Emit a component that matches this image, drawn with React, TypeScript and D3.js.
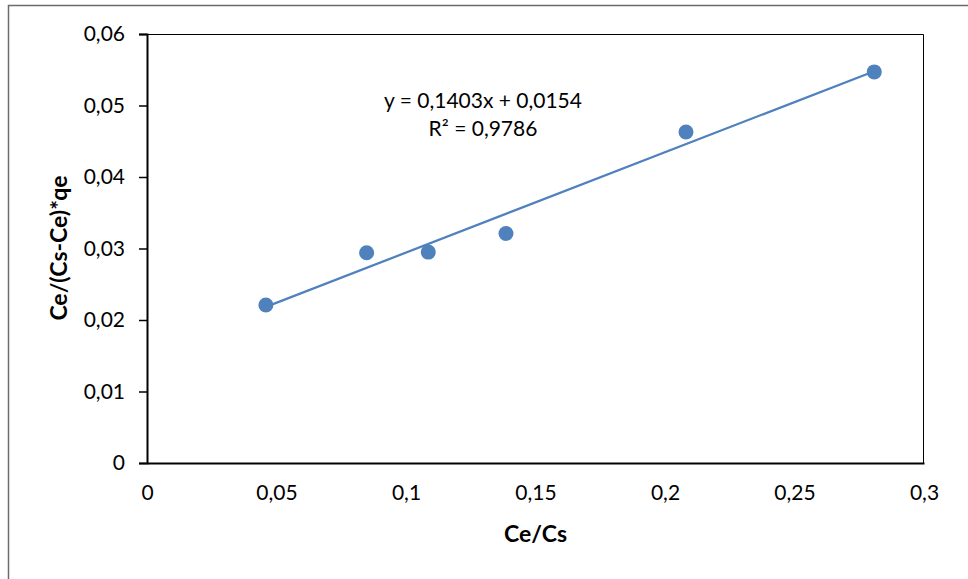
import { useRef, useEffect } from "react";
import * as d3 from "d3";

// values
const ceCs = [0.0459, 0.0848, 0.1086, 0.1386, 0.2081, 0.2808];
const ceRatio = [0.0221, 0.0294, 0.0295, 0.0321, 0.0463, 0.0547];
const xTicks = [0, 0.05, 0.1, 0.15, 0.2, 0.25, 0.3];
const yTicks = [0, 0.01, 0.02, 0.03, 0.04, 0.05, 0.06];
const trendSlope = 0.1403;
const trendIntercept = 0.0154;
const trendR2 = 0.9786;

const WIDTH = 968;
const HEIGHT = 579;
const margin = { top: 34, right: 44, bottom: 116, left: 147 };
const FONT = "Lato, 'Open Sans', sans-serif";
const BLUE = "#4F81BD";

// 0,05 style labels
const comma = (v: number) => String(+v.toFixed(4)).replace(".", ",");

const App = () => {
  const svgRef = useRef<SVGSVGElement>(null);

  useEffect(() => {
    const svg = d3.select(svgRef.current);
    svg.selectAll("*").remove();

    const chartWidth = WIDTH - margin.left - margin.right;
    const chartHeight = HEIGHT - margin.top - margin.bottom;

    svg.append("rect").attr("width", WIDTH).attr("height", HEIGHT).attr("fill", "#fff");

    // outer chart frame (only top and left edges are in view)
    svg
      .append("path")
      .attr("d", `M8.5,${HEIGHT} V5.5 H${WIDTH}`)
      .attr("fill", "none")
      .attr("stroke", "#6b6b6b")
      .attr("stroke-width", 1.5);

    const g = svg.append("g").attr("transform", `translate(${margin.left},${margin.top})`);

    const xScale = d3.scaleLinear().domain([0, 0.3]).range([0, chartWidth]);
    const yScale = d3.scaleLinear().domain([0, 0.06]).range([chartHeight, 0]);

    // plot area border, top and right thin
    g.append("path")
      .attr("d", `M0,0.5 H${chartWidth - 0.5} V${chartHeight}`)
      .attr("fill", "none")
      .attr("stroke", "#000")
      .attr("stroke-width", 1);

    // Y axis
    const yAxis = g
      .append("g")
      .call(d3.axisLeft(yScale).tickValues(yTicks).tickSize(8).tickPadding(14).tickFormat((d) => comma(+d)));
    yAxis.select(".domain").attr("stroke", "#000").attr("stroke-width", 2);
    yAxis.selectAll("line").attr("stroke", "#000").attr("stroke-width", 1.5);
    yAxis.selectAll("text").style("font-size", "21px").style("font-family", FONT).attr("fill", "#000");

    // X axis, no tick marks
    const xAxis = g
      .append("g")
      .attr("transform", `translate(0,${chartHeight})`)
      .call(d3.axisBottom(xScale).tickValues(xTicks).tickSize(0).tickSizeOuter(0).tickPadding(22).tickFormat((d) => comma(+d)));
    xAxis.select(".domain").attr("stroke", "#000").attr("stroke-width", 2);
    xAxis.selectAll("text").style("font-size", "21px").style("font-family", FONT).attr("fill", "#000");

    // Axis titles
    g.append("text")
      .attr("x", chartWidth / 2)
      .attr("y", chartHeight + 79)
      .attr("text-anchor", "middle")
      .style("font-family", FONT)
      .style("font-weight", "bold")
      .style("font-size", "23px")
      .text("Ce/Cs");

    g.append("text")
      .attr("transform", `translate(${67 - margin.left},${248 - margin.top}) rotate(-90)`)
      .attr("text-anchor", "middle")
      .style("font-family", FONT)
      .style("font-weight", "bold")
      .style("font-size", "23px")
      .text("Ce/(Cs-Ce)*qe");

    // Linear trendline
    const xExtent = d3.extent(ceCs) as [number, number];
    const line = d3
      .line<number>()
      .x((d) => xScale(d))
      .y((d) => yScale(trendSlope * d + trendIntercept));
    g.append("path")
      .datum(xExtent)
      .attr("fill", "none")
      .attr("stroke", BLUE)
      .attr("stroke-width", 2.25)
      .attr("d", line);

    // Points
    g.selectAll(".dot")
      .data(ceCs)
      .enter()
      .append("circle")
      .attr("class", "dot")
      .attr("cx", (d) => xScale(d))
      .attr("cy", (d, i) => yScale(ceRatio[i]))
      .attr("r", 7.5)
      .attr("fill", BLUE);

    // Equation label
    const eq = g
      .append("text")
      .attr("text-anchor", "middle")
      .style("font-family", FONT)
      .style("font-size", "21px")
      .attr("fill", "#000");
    eq.append("tspan")
      .attr("x", 483 - margin.left)
      .attr("y", 108 - margin.top)
      .text(`y = ${comma(trendSlope)}x + ${comma(trendIntercept)}`);
    eq.append("tspan")
      .attr("x", 483 - margin.left)
      .attr("y", 136 - margin.top)
      .text(`R² = ${comma(trendR2)}`);
  }, []);

  return (
    <div style={{ position: "absolute", left: 0, top: 0 }}>
      <svg ref={svgRef} width={WIDTH} height={HEIGHT}></svg>
    </div>
  );
};

export default App;
